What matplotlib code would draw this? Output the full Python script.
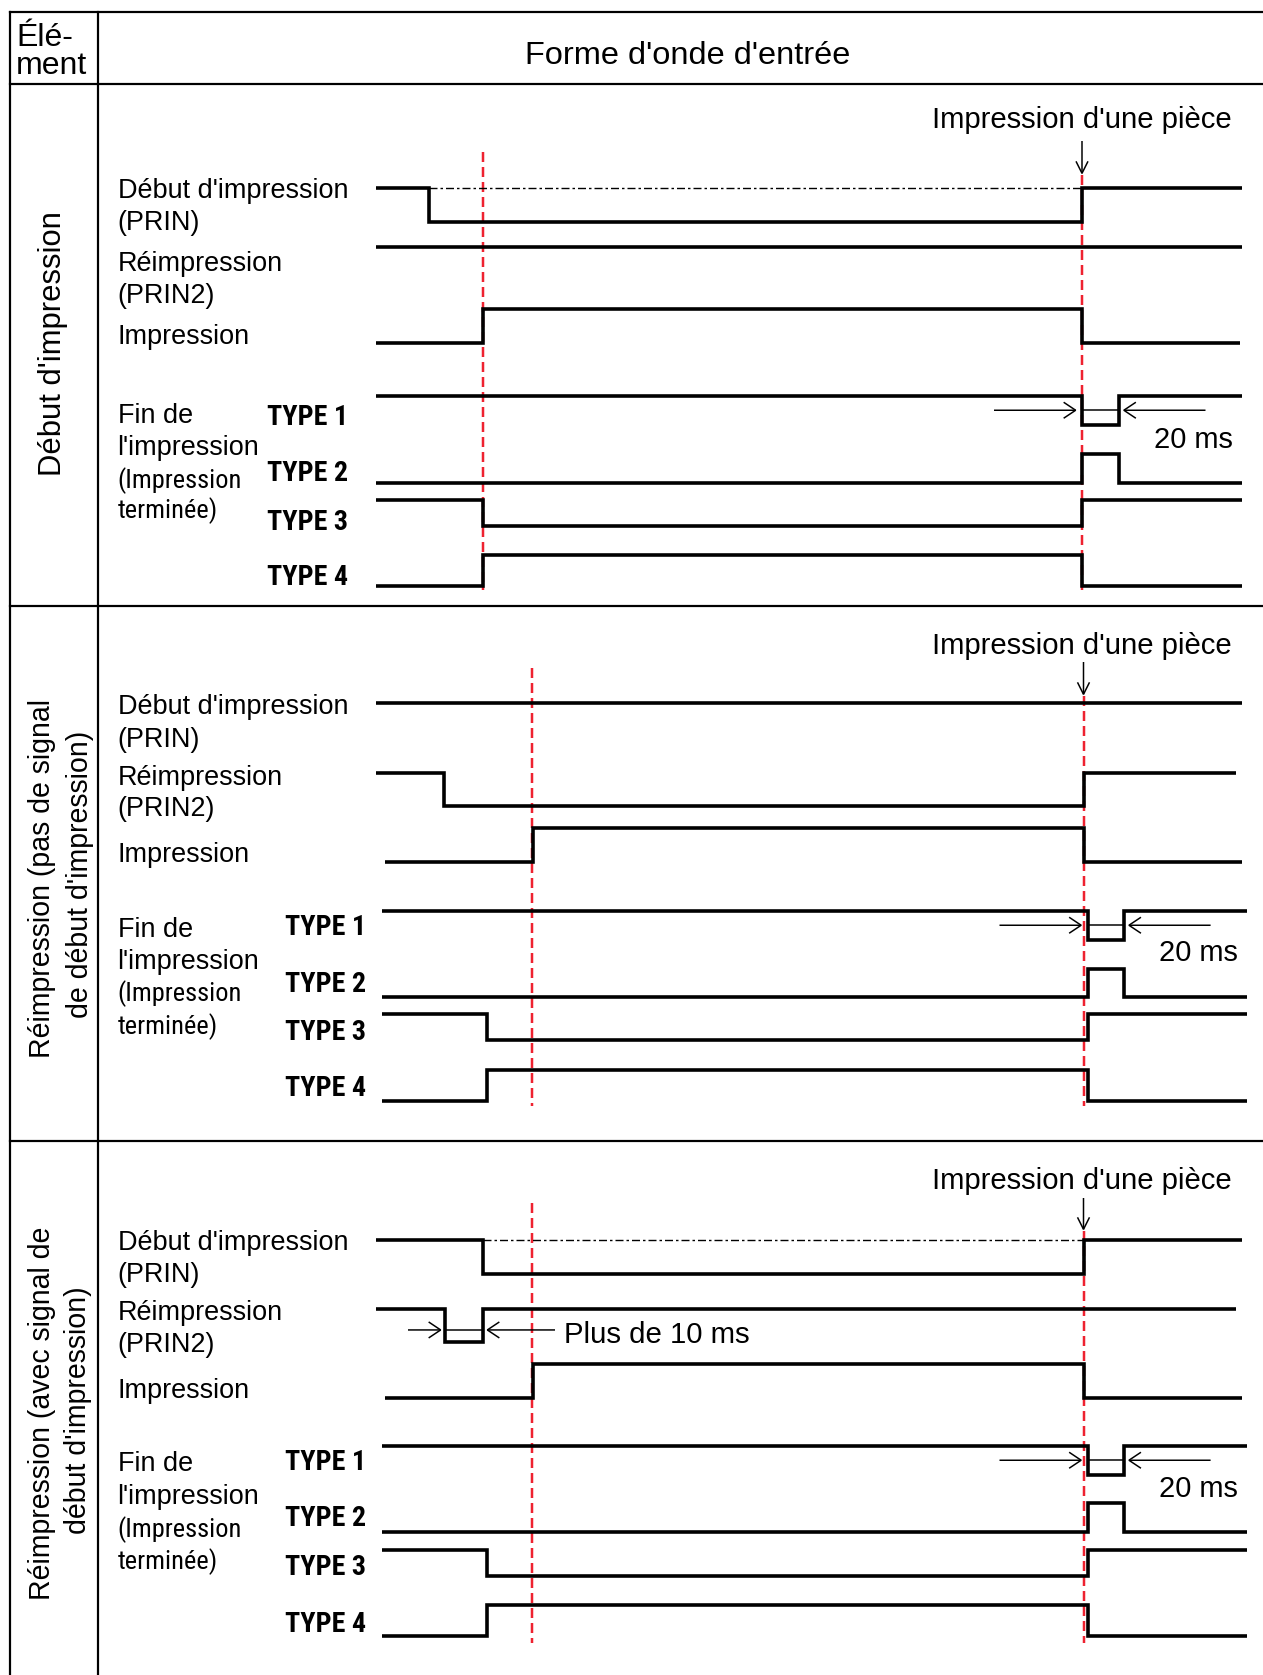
import matplotlib
matplotlib.use('Agg')
import matplotlib.pyplot as plt
from matplotlib import font_manager as fm
from matplotlib.font_manager import FontProperties
from matplotlib.patches import FancyArrowPatch
from matplotlib.textpath import TextPath

# ---------------- data ----------------
HEADER_LEFT = ["Élé-", "ment"]
HEADER_MAIN = "Forme d'onde d'entrée"
SECTION_TITLES = [["Début d'impression"],
                  ["Réimpression (pas de signal", "de début d'impression)"],
                  ["Réimpression (avec signal de", "début d'impression)"]]
SIGNAL_LABELS = [["Début d'impression", "(PRIN)"], ["Réimpression", "(PRIN2)"], ["Impression"]]
END_LABEL = ["Fin de", "l'impression"]
END_LABEL_SMALL = ["(Impression", "terminée)"]
TYPE_LABELS = ["TYPE 1", "TYPE 2", "TYPE 3", "TYPE 4"]
ONE_PIECE = "Impression d'une pièce"
PULSE_TEXT = "20 ms"
MIN_TEXT = "Plus de 10 ms"

# rows: PRIN, PRIN2, Impression, TYPE1..TYPE4 ; edge times (diagram time units) and logic levels
sec1_edges = [[429, 1082], [], [483, 1082], [1082, 1118.5], [1082, 1118.5], [483, 1082], [483, 1082]]
sec1_levels = [[1, 0, 1], [1], [0, 1, 0], [1, 0, 1], [0, 1, 0], [1, 0, 1], [0, 1, 0]]
sec2_edges = [[], [444, 1083.5], [533, 1083.5], [1087.5, 1123.6], [1087.5, 1123.6], [487, 1087.5], [487, 1087.5]]
sec2_levels = [[1], [1, 0, 1], [0, 1, 0], [1, 0, 1], [0, 1, 0], [1, 0, 1], [0, 1, 0]]
sec3_edges = [[483, 1083.5], [445, 483], [533, 1083.5], [1087.5, 1123.6], [1087.5, 1123.6], [487, 1087.5], [487, 1087.5]]
sec3_levels = [[1, 0, 1], [1, 0, 1], [0, 1, 0], [1, 0, 1], [0, 1, 0], [1, 0, 1], [0, 1, 0]]
sec_start = [[376] * 7, [376, 376, 385, 382, 382, 382, 382], [376, 376, 385, 382, 382, 382, 382]]
sec_end = [[1242, 1242, 1240, 1242, 1242, 1242, 1242],
           [1242, 1236, 1242, 1247, 1247, 1247, 1247],
           [1242, 1236, 1242, 1247, 1247, 1247, 1247]]
# trigger instants (red markers): print start, one piece printed
sec_markers = [[483, 1082], [532, 1083.5], [532, 1083.5]]

EDGES = [sec1_edges, sec2_edges, sec3_edges]
LEVELS = [sec1_levels, sec2_levels, sec3_levels]

# ---------------- layout ----------------
W, H = 1263, 1675
PT = 0.72
names = {f.name for f in fm.fontManager.ttflist}
FONT = 'Liberation Sans' if 'Liberation Sans' in names else 'DejaVu Sans'


def weight_num(w):
    if isinstance(w, (int, float)):
        return int(w)
    return {'bold': 700, 'normal': 400, 'regular': 400, 'medium': 500,
            'semibold': 600, 'light': 300}.get(str(w).lower(), 400)


def find_narrow(bold):
    prefs = ['liberation sans narrow', 'arial narrow', 'roboto condensed',
             'noto sans', 'open sans', 'lato', 'dejavu sans']
    best, best_score = None, -1
    for f in fm.fontManager.ttflist:
        n = f.name.lower()
        st = f.stretch
        st_cond = (isinstance(st, (int, float)) and st < 500) or \
            (isinstance(st, str) and 'condensed' in st.lower())
        fname_l = f.fname.lower()
        narrowish = 'narrow' in n or 'condensed' in n or st_cond or \
            'condensed' in fname_l or 'narrow' in fname_l
        if not narrowish or f.style != 'normal':
            continue
        w = weight_num(f.weight)
        if bold and w < 600:
            continue
        if not bold and not (350 <= w <= 450):
            continue
        score = 0
        for i, p in enumerate(prefs):
            if p in n:
                score = 20 - i
                break
        if 'extra' in fname_l or 'ultra' in fname_l or 'semi' in fname_l:
            score -= 5
        if score > best_score:
            best, best_score = f.fname, score
    if best:
        return FontProperties(fname=best)
    return FontProperties(family=FONT, weight='bold' if bold else 'normal')


FP_NARROW = find_narrow(False)
FP_NARROW_B = find_narrow(True)

fig = plt.figure(figsize=(W / 100, H / 100), dpi=100)
ax = fig.add_axes([0, 0, 1, 1])
ax.set_xlim(0, W)
ax.set_ylim(H, 0)
ax.axis('off')
renderer = fig.canvas.get_renderer()


def fit_size(text, fp, target_w_px, target_cap_px, wh=0.5):
    t = ax.text(0, 0, text, fontproperties=fp, fontsize=20)
    w = t.get_window_extent(renderer).width
    t.remove()
    size_w = 20 * target_w_px / w
    cap = TextPath((0, 0), "I", size=100, prop=fp).get_extents().height / 100.0
    size_h = target_cap_px / cap * PT
    return wh * size_h + (1 - wh) * size_w


SZ_TYPE = fit_size("TYPE 1", FP_NARROW_B, 83, 19.3)
SZ_SMALL = fit_size("(Impression", FP_NARROW, 121, 19.3)

DY = 2.5


def txt(x, y, s, px, ha='left', va='center', family=FONT, weight='normal', rot=0):
    if rot:
        x += DY
    else:
        y += DY
    ax.text(x, y, s, fontsize=px * PT, ha=ha, va=va, family=family,
            weight=weight, rotation=rot, color='black')


def txt_fp(x, y, s, fp, size, ha='left'):
    ax.text(x, y + DY, s, fontproperties=fp, fontsize=size, ha=ha, va='center', color='black')


def arrow(x0, y0, x1, y1, hl=12, hw=7, lw=1.5):
    a = FancyArrowPatch((x0, y0), (x1, y1),
                        arrowstyle=f'->,head_length={hl * PT / 10},head_width={hw * PT / 10}',
                        mutation_scale=10, lw=lw * PT, color='black',
                        shrinkA=0, shrinkB=0, joinstyle='miter', capstyle='butt')
    ax.add_patch(a)


# frame
FR = 2.2 * PT
LEFT, COL, TOP = 9.5, 98, 11.8
HLINES = [11.8, 84.4, 606, 1141.3]
ax.plot([LEFT, LEFT], [TOP, H + 5], color='black', lw=FR, solid_capstyle='projecting')
ax.plot([COL, COL], [TOP, H + 5], color='black', lw=FR)
for yy in HLINES:
    ax.plot([LEFT, W + 5], [yy, yy], color='black', lw=FR, solid_capstyle='projecting')

# header
txt(16, 35, HEADER_LEFT[0], 32)
txt(16, 64, HEADER_LEFT[1], 32)
txt(688, 53.4, HEADER_MAIN, 32.5, ha='center')

# per-section layout
row_high = [[188, 247, 309, 396, 454, 500, 555],
            [703, 773, 828, 911, 968.5, 1014, 1070],
            [1239.5, 1308.5, 1364, 1446, 1503, 1550, 1604.5]]
row_amp = [34, 33, 34, 28.5, 28.5, 26, 31]
title_pos = [[(51, 344)], [(39.6, 878), (77.6, 874.6)], [(39.6, 1413), (75.5, 1410)]]
title_px = [31, 28.5, 28.5]
label_y = [[189, 220.7, 261.7, 293.3, 334.3, 413.3, 445.3, 477.7, 508.3],
           [704.3, 737.7, 775.6, 806.6, 853, 927.1, 959.2, 991.5, 1023.6],
           [1240.5, 1272.5, 1310.7, 1342, 1389, 1461.9, 1495, 1527.3, 1559.3]]
type_x = [267, 285, 285]
type_y = [[415, 471, 520, 575], [925.4, 981.5, 1030.4, 1086.2], [1460.2, 1516.5, 1565.2, 1621.8]]
marker_span = [[(151.7, 590), (175, 590)], [(668, 1106), (696, 1106)], [(1203, 1643), (1231, 1643)]]
one_piece_y = [117.7, 643, 1178.7]
one_piece_arrow = [(141, 175), (662, 696), (1198, 1231)]
pulse_text_y = [438, 950.5, 1486.3]
pulse_text_x = [1233, 1238, 1238]
LABEL_X = 117.6
WAVE_LW = 3.6 * PT
RED_LW = 2.5 * PT
RED = '#ee2230'

for s in range(3):
    # section title (rotated)
    for line, (x, y) in zip(SECTION_TITLES[s], title_pos[s]):
        txt(x, y, line, title_px[s], ha='center', rot=90)
    # labels
    ly = label_y[s]
    lines = SIGNAL_LABELS[0] + SIGNAL_LABELS[1] + SIGNAL_LABELS[2] + END_LABEL
    for t, y in zip(lines, ly[:7]):
        txt(LABEL_X, y, t, 27)
    for t, y in zip(END_LABEL_SMALL, ly[7:]):
        txt_fp(LABEL_X, y, t, FP_NARROW, SZ_SMALL)
    for t, y in zip(TYPE_LABELS, type_y[s]):
        txt_fp(type_x[s], y, t, FP_NARROW_B, SZ_TYPE)

    # red markers
    for mx, (y0, y1) in zip(sec_markers[s], marker_span[s]):
        ax.plot([mx, mx], [y0, y1], color=RED, lw=RED_LW,
                linestyle=(0, (10 * PT / RED_LW, 5 * PT / RED_LW)), zorder=1)

    # waveforms
    for r in range(7):
        yh = row_high[s][r]
        yl = yh + row_amp[r]
        edges = EDGES[s][r]
        levels = LEVELS[s][r]
        xs = [sec_start[s][r]]
        ys = [yh if levels[0] else yl]
        for k, e in enumerate(edges):
            xs += [e, e]
            ys += [yh if levels[k] else yl, yh if levels[k + 1] else yl]
        xs.append(sec_end[s][r])
        ys.append(yh if levels[-1] else yl)
        ax.plot(xs, ys, color='black', lw=WAVE_LW, solid_joinstyle='miter',
                solid_capstyle='butt', zorder=3)

    # dash-dot reference on PRIN when it goes low
    e = EDGES[s][0]
    if len(e) == 2:
        dl = 1.4 * PT
        ax.plot([e[0], e[1]], [row_high[s][0]] * 2, color='black', lw=dl,
                linestyle=(0, (8 * PT / dl, 3 * PT / dl, 2.5 * PT / dl, 3 * PT / dl)), zorder=2)

    # one piece printed
    txt(1232, one_piece_y[s], ONE_PIECE, 29.2, ha='right')
    ax_x = sec_markers[s][1]
    arrow(ax_x, one_piece_arrow[s][0], ax_x, one_piece_arrow[s][1], hl=12, hw=6)

    # 20 ms pulse width annotation on TYPE 1
    p0, p1 = EDGES[s][3]
    ym = row_high[s][3] + row_amp[3] / 2
    ax.plot([p0, p1], [ym, ym], color='black', lw=1.5 * PT, zorder=2)
    arrow(p0 - 88, ym, p0 - 5, ym, hl=12, hw=8)
    arrow(p1 + 87, ym, p1 + 4, ym, hl=12, hw=8)
    txt(pulse_text_x[s], pulse_text_y[s], PULSE_TEXT, 29, ha='right')

# minimum PRIN2 pulse annotation (section 3)
q0, q1 = EDGES[2][1]
yq = row_high[2][1] + 0.65 * row_amp[1]
ax.plot([q0, q1], [yq, yq], color='black', lw=1.5 * PT, zorder=2)
arrow(q0 - 37, yq, q0 - 3, yq, hl=12, hw=8)
arrow(q1 + 72, yq, q1 + 3, yq, hl=12, hw=8)
txt(564.5, yq + 3, MIN_TEXT, 29.4)

fig.savefig('out.png', dpi=100, facecolor='white')
